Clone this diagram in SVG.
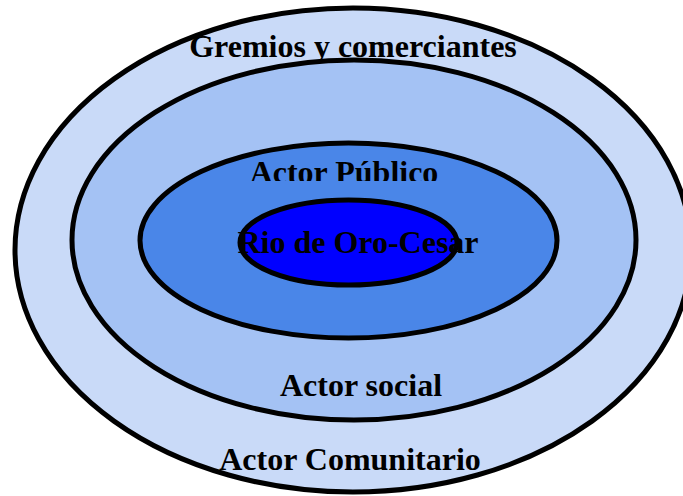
<svg xmlns="http://www.w3.org/2000/svg" width="683" height="496" viewBox="0 0 683 496">
<style>
.ring{stroke:#000;stroke-width:5}
.lbl{font-family:"Liberation Serif","Times New Roman",serif;font-weight:bold;font-size:32px;fill:#000;text-anchor:middle}
</style>
<defs>
<clipPath id="clipPub"><rect x="0" y="0" width="683" height="181"/></clipPath>
</defs>
<rect width="683" height="496" fill="#fff"/>
<g id="gremios">
<ellipse class="ring" cx="353" cy="250" rx="338" ry="242" fill="#C9DAF8"/>
<text class="lbl" x="353" y="57">Gremios y comerciantes</text>
<text class="lbl" x="350" y="470">Actor Comunitario</text>
</g>
<g id="social">
<ellipse class="ring" cx="354" cy="240" rx="282" ry="180" fill="#A4C2F4"/>
<text class="lbl" x="361" y="396">Actor social</text>
</g>
<g id="publico">
<ellipse class="ring" cx="348.5" cy="240.5" rx="208.5" ry="97.5" fill="#4A86E8"/>
<text class="lbl" x="344" y="183" clip-path="url(#clipPub)">Actor Público</text>
</g>
<g id="rio">
<ellipse cx="348.5" cy="242.5" rx="108.5" ry="42.5" fill="#0000FF"/>
<text class="lbl" x="358" y="253">Rio de Oro-Cesar</text>
<ellipse class="ring" cx="348.5" cy="242.5" rx="108.5" ry="42.5" fill="none"/>
</g>
<g id="connectors"/>
</svg>
